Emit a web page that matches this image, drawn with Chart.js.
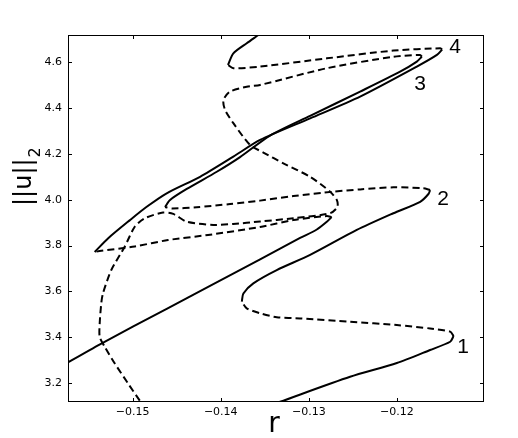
<!DOCTYPE html>
<html>
<head>
<meta charset="utf-8">
<script src="https://cdn.jsdelivr.net/npm/chart.js@4/dist/chart.umd.min.js"></script>
<style>
  body { margin: 0; background: #fff; }
  #wrap { width: 518px; height: 438px; }
</style>
</head>
<body>
<div id="wrap"><canvas id="chart" width="518" height="438"></canvas></div>
<script>
// axis ticks
const rTicks = [-0.15, -0.14, -0.13, -0.12];
const uTicks = [3.2, 3.4, 3.6, 3.8, 4.0, 4.2, 4.4, 4.6];

// branch pieces as [r, ||u||_2]; stable = solid, unstable = dashed
const stable1 = [[-0.1340, 3.108], [-0.13326, 3.118], [-0.12531, 3.227], [-0.12, 3.287],
  [-0.11622, 3.344], [-0.11394, 3.380], [-0.11355, 3.405]];
const unstable1 = [[-0.11355, 3.405], [-0.11394, 3.424], [-0.11622, 3.438], [-0.12, 3.453],
  [-0.12531, 3.467], [-0.13099, 3.482], [-0.13364, 3.487], [-0.13553, 3.504],
  [-0.13705, 3.526], [-0.13761, 3.555]];
const stable2 = [[-0.13761, 3.555], [-0.13743, 3.591], [-0.13630, 3.635], [-0.13364, 3.693],
  [-0.12985, 3.759], [-0.12455, 3.868], [-0.12039, 3.941], [-0.11735, 3.991],
  [-0.11641, 4.025], [-0.11622, 4.042]];
const unstable2 = [[-0.11622, 4.042], [-0.11698, 4.050], [-0.12039, 4.054], [-0.12417, 4.045],
  [-0.12720, 4.035], [-0.13175, 4.016], [-0.13553, 3.996], [-0.13894, 3.981],
  [-0.14273, 3.967], [-0.14553, 3.962], [-0.14633, 3.968]];
const stable3 = [[-0.14633, 3.968], [-0.14576, 3.999], [-0.14386, 4.047], [-0.14045, 4.122],
  [-0.13781, 4.186], [-0.13440, 4.280], [-0.12985, 4.366], [-0.12417, 4.472],
  [-0.11963, 4.559], [-0.11773, 4.603], [-0.11716, 4.624]];
const unstable3 = [[-0.11716, 4.624], [-0.11735, 4.632], [-0.12039, 4.624], [-0.12795, 4.574],
  [-0.13553, 4.501], [-0.13705, 4.493], [-0.13894, 4.472], [-0.13970, 4.435],
  [-0.13951, 4.392], [-0.13857, 4.334], [-0.13667, 4.239], [-0.13516, 4.206],
  [-0.13289, 4.159], [-0.12985, 4.100], [-0.12758, 4.035], [-0.12682, 3.999],
  [-0.12675, 3.968], [-0.12758, 3.941], [-0.13175, 3.919], [-0.13553, 3.905],
  [-0.13860, 3.894], [-0.14084, 3.890], [-0.14386, 3.904], [-0.14539, 3.938],
  [-0.14656, 3.944], [-0.14864, 3.919], [-0.14977, 3.882], [-0.15091, 3.795],
  [-0.15243, 3.693], [-0.15338, 3.591], [-0.15357, 3.548], [-0.15375, 3.460],
  [-0.15375, 3.402], [-0.15318, 3.358], [-0.15205, 3.286], [-0.15053, 3.198],
  [-0.14917, 3.121], [-0.14883, 3.100]];
const stable4 = [[-0.1580, 3.275], [-0.15735, 3.290], [-0.15372, 3.369], [-0.14614, 3.524],
  [-0.14122, 3.624], [-0.13553, 3.740], [-0.13099, 3.833], [-0.12909, 3.870],
  [-0.12792, 3.905], [-0.12741, 3.924]];
const unstable4 = [[-0.12741, 3.924], [-0.12795, 3.929], [-0.13175, 3.911], [-0.13553, 3.881],
  [-0.14144, 3.846], [-0.14599, 3.824], [-0.14977, 3.796], [-0.15357, 3.777],
  [-0.15432, 3.772]];
const stable5 = [[-0.15432, 3.772], [-0.15281, 3.831], [-0.15031, 3.911], [-0.14841, 3.969],
  [-0.14614, 4.028], [-0.14235, 4.100], [-0.13857, 4.188], [-0.13553, 4.261],
  [-0.12985, 4.355], [-0.12417, 4.450], [-0.11773, 4.581], [-0.11545, 4.632],
  [-0.11485, 4.656]];
const unstable5 = [[-0.11485, 4.656], [-0.11508, 4.661], [-0.12039, 4.651], [-0.12795, 4.617],
  [-0.13553, 4.581], [-0.13857, 4.574], [-0.13918, 4.588]];
const stable6 = [[-0.13918, 4.588], [-0.13857, 4.639], [-0.13705, 4.683], [-0.13573, 4.719],
  [-0.13508, 4.737]];

const pieces = [
  [stable1, false], [unstable1, true], [stable2, false], [unstable2, true],
  [stable3, false], [unstable3, true], [stable4, false], [unstable4, true],
  [stable5, false], [unstable5, true], [stable6, false]
];

// fold numbers
const foldLabels = [['1', -0.11247, 3.357], ['2', -0.11474, 4.003], ['3', -0.11735, 4.505], ['4', -0.11337, 4.667]];

const framePlugin = {
  id: 'frame',
  afterDraw(chart) {
    const { ctx, chartArea: a, scales: { x, y } } = chart;
    ctx.save();
    ctx.strokeStyle = '#000';
    ctx.lineWidth = 1;
    ctx.strokeRect(a.left + 0.5, a.top + 0.5, a.right - a.left - 1, a.bottom - a.top - 1);
    ctx.beginPath();
    rTicks.forEach(v => {
      const px = Math.round(x.getPixelForValue(v)) + 0.5;
      ctx.moveTo(px, a.bottom); ctx.lineTo(px, a.bottom - 4);
      ctx.moveTo(px, a.top); ctx.lineTo(px, a.top + 4);
    });
    uTicks.forEach(v => {
      const py = Math.round(y.getPixelForValue(v)) + 0.5;
      ctx.moveTo(a.left, py); ctx.lineTo(a.left + 4, py);
      ctx.moveTo(a.right, py); ctx.lineTo(a.right - 4, py);
    });
    ctx.stroke();

    ctx.fillStyle = '#000';
    ctx.font = '21px "Liberation Sans", Arial, sans-serif';
    ctx.textAlign = 'center';
    ctx.textBaseline = 'middle';
    foldLabels.forEach(([t, r, u]) => ctx.fillText(t, x.getPixelForValue(r), y.getPixelForValue(u)));

    // axis titles
    ctx.font = '28px "DejaVu Sans", sans-serif';
    ctx.textBaseline = 'alphabetic';
    ctx.fillText('r', 274, 432);

    ctx.translate(31, 206);
    ctx.rotate(-Math.PI / 2);
    ctx.textAlign = 'left';
    ctx.font = '24px "DejaVu Sans", sans-serif';
    ctx.fillText('||u||', 0, 0);
    const w = ctx.measureText('||u||').width;
    ctx.font = '16px "DejaVu Sans", sans-serif';
    ctx.fillText('2', w + 1, 9);
    ctx.restore();
  }
};

new Chart(document.getElementById('chart'), {
  type: 'scatter',
  data: {
    datasets: pieces.map(([pts, dashed]) => ({
      data: pts.map(([r, u]) => ({ x: r, y: u })),
      showLine: true,
      borderColor: '#000',
      borderWidth: 2,
      borderDash: dashed ? [7, 4] : [],
      pointRadius: 0,
      tension: 0.25,
      clip: 0
    }))
  },
  options: {
    responsive: false,
    animation: false,
    devicePixelRatio: 1,
    layout: { padding: { top: 35, right: 34, left: 0, bottom: 0 } },
    plugins: { legend: { display: false }, tooltip: { enabled: false } },
    scales: {
      x: {
        type: 'linear',
        min: -0.15735,
        max: -0.1101,
        grid: { display: false, drawTicks: false },
        border: { display: false },
        afterBuildTicks: s => { s.ticks = rTicks.map(v => ({ value: v })); },
        afterFit: s => { s.height = 36; },
        ticks: {
          color: '#000',
          padding: 4,
          maxRotation: 0,
          font: { family: '"DejaVu Sans", sans-serif', size: 11 },
          callback: v => v.toFixed(2).replace('-', '\u2212')
        }
      },
      y: {
        type: 'linear',
        min: 3.117,
        max: 4.719,
        grid: { display: false, drawTicks: false },
        border: { display: false },
        afterBuildTicks: s => { s.ticks = uTicks.map(v => ({ value: v })); },
        afterFit: s => { s.width = 68; },
        ticks: {
          color: '#000',
          padding: 6,
          font: { family: '"DejaVu Sans", sans-serif', size: 11 },
          callback: v => v.toFixed(1)
        }
      }
    }
  },
  plugins: [framePlugin]
});
</script>
</body>
</html>
